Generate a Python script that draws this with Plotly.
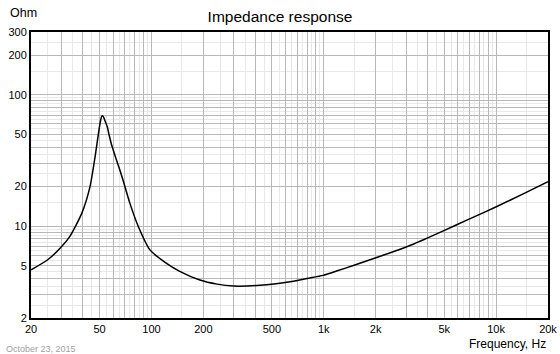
import math
import plotly.graph_objects as go

# Impedance curve (Hz, Ohm)
freq = [20, 25, 29.5, 33.7, 39.4, 44, 47.1, 49.6, 50.6, 51.6, 52.6, 53.6, 55.4, 57,
        58.5, 60, 62, 65.7, 70, 75, 84, 98, 120, 145, 191, 240, 299, 426, 636,
        800, 992, 1200, 1484, 2026, 2500, 3330, 4940, 6760, 10100, 14360, 20000]
imp = [4.64, 5.55, 6.78, 8.4, 12.5, 20.0, 33.8, 54, 63, 69, 68, 64, 57, 48.5,
       42.2, 38, 33.2, 26.5, 20.2, 14.9, 9.9, 6.6, 5.3, 4.55, 3.89, 3.62, 3.50, 3.55, 3.78,
       4.0, 4.22, 4.57, 5.02, 5.77, 6.35, 7.32, 9.2, 11.1, 14.1, 17.6, 21.8]

x_label_vals = [20, 50, 100, 200, 500, 1000, 2000, 5000, 10000, 20000]
x_label_text = ["20", "50", "100", "200", "500", "1k", "2k", "5k", "10k", "20k"]
y_label_vals = [2, 5, 10, 20, 50, 100, 200, 300]
y_label_text = ["2", "5", "10", "20", "50", "100", "200", "300"]

title_text = "Impedance response"
y_unit_text = "Ohm"
x_unit_text = "Frequency, Hz"
date_text = "October 23, 2015"


def grid_vals(lo, hi, step):
    vals = []
    for e in range(0, 6):
        m = 1.0
        while m < 10 - 1e-9:
            v = m * 10 ** e
            if lo - 1e-9 <= v <= hi + 1e-9:
                vals.append(round(v, 6))
            m += step
    return vals


x_major = grid_vals(20, 20000, 1.0)
x_minor = [v for v in grid_vals(20, 20000, 0.5) if v not in x_major]
y_major = grid_vals(2, 300, 1.0)
y_minor = [v for v in grid_vals(2, 300, 0.5) if v not in y_major]

x_lab = dict(zip(x_label_vals, x_label_text))
y_lab = dict(zip(y_label_vals, y_label_text))
x_text = [x_lab.get(int(v) if float(v).is_integer() else v, "") for v in x_major]
y_text = [y_lab.get(int(v) if float(v).is_integer() else v, "") for v in y_major]

fig = go.Figure()
fig.add_trace(go.Scatter(x=freq, y=imp, mode="lines",
                         line=dict(color="black", width=1.5, shape="spline", smoothing=0.6),
                         hoverinfo="skip", showlegend=False))

font_family = "Liberation Sans, Arial, sans-serif"
axis_common = dict(
    showline=True, linecolor="black", linewidth=2, mirror=True,
    ticks="", showgrid=True, gridcolor="#b8b8b8", gridwidth=1,
    zeroline=False, automargin=False,
    tickfont=dict(family=font_family, size=11, color="black"),
)

fig.update_xaxes(type="log", range=[math.log10(20), math.log10(20000)],
                 tickmode="array", tickvals=x_major, ticktext=x_text,
                 minor=dict(tickmode="array", tickvals=x_minor, showgrid=True,
                            gridcolor="#e8e8e8", gridwidth=1, ticks=""),
                 **axis_common)
fig.update_yaxes(type="log", range=[math.log10(2), math.log10(300)],
                 tickmode="array", tickvals=y_major, ticktext=y_text,
                 minor=dict(tickmode="array", tickvals=y_minor, showgrid=True,
                            gridcolor="#e8e8e8", gridwidth=1, ticks=""),
                 **axis_common)

W = 517
H = 286
fig.update_layout(
    width=560, height=354,
    margin=dict(l=31, r=12, t=32, b=36),
    paper_bgcolor="white", plot_bgcolor="white",
    font=dict(family=font_family, color="black"),
    title=dict(text=title_text, x=0.5, xanchor="center", y=1 - 17 / 354, yanchor="middle",
               font=dict(size=15.5, color="black", family=font_family)),
    annotations=[
        dict(text=y_unit_text, xref="paper", yref="paper", x=-23 / W, y=1 + 19 / H,
             xanchor="left", yanchor="middle", showarrow=False,
             font=dict(size=12.5, color="black", family=font_family)),
        dict(text=x_unit_text, xref="paper", yref="paper", x=1, y=-26 / H,
             xanchor="right", yanchor="middle", showarrow=False,
             font=dict(size=12, color="black", family=font_family)),
        dict(text=date_text, xref="paper", yref="paper", x=-27 / W, y=-31 / H,
             xanchor="left", yanchor="middle", showarrow=False,
             font=dict(size=9, color="#a0a0a0", family=font_family)),
    ],
)

fig.write_html("out.html")
